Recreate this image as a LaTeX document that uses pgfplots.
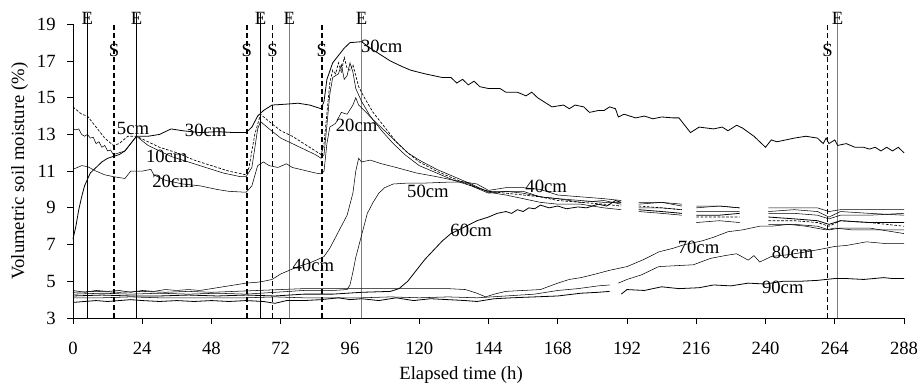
\documentclass[border=0pt]{standalone}
\usepackage{fontspec}
\setmainfont{Liberation Serif}
\usepackage{pgfplots}
\pgfplotsset{compat=1.18}
\begin{document}
\begin{tikzpicture}[font=\fontsize{14}{16}\selectfont]
\useasboundingbox (-54.75pt,-51.75pt) rectangle (636.75pt,238.5pt);
\begin{axis}[
  at={(0,0)}, anchor=south west,
  scale only axis, width=623.25pt, height=220.3pt,
  xmin=0, xmax=288, ymin=3, ymax=19,
  axis lines=left, axis line style={-, line width=0.6pt},
  tick align=outside, major tick length=4.5pt,
  tick style={black, line width=0.6pt},
  xtick={0,24,...,288}, ytick={3,5,...,19},
  minor tick num=0,
  /pgf/number format/assume math mode=true,
  xticklabel style={yshift=-10pt},
  yticklabel style={xshift=-5pt},
  clip=false, unbounded coords=jump,
  cycle list={{black, mark=none, line width=0.6pt}},
]
% event lines
\addplot[black, line width=0.6pt] coordinates {(5,3) (5,19.6)};
\addplot[black, line width=0.6pt] coordinates {(22,3) (22,19.6)};
\addplot[black, line width=0.6pt] coordinates {(65,3) (65,19.6)};
\addplot[gray, line width=1pt] coordinates {(75,3) (75,19.6)};
\addplot[gray, line width=1pt] coordinates {(100,3) (100,19.6)};
\addplot[gray, line width=1pt] coordinates {(265,3) (265,19.6)};
\addplot[black, line width=1.3pt, dash pattern=on 4pt off 2pt] coordinates {(14.2,3) (14.2,19.05)};
\addplot[black, line width=1.3pt, dash pattern=on 4pt off 2pt] coordinates {(60.2,3) (60.2,19.05)};
\addplot[black, line width=1.3pt, dash pattern=on 4pt off 2pt] coordinates {(86.2,3) (86.2,19.05)};
\addplot[black, line width=0.6pt, dash pattern=on 4pt off 2pt] coordinates {(69.2,3) (69.2,19.05)};
\addplot[black, line width=0.6pt, dash pattern=on 4pt off 2pt] coordinates {(261.5,3) (261.5,19.05)};
\node at (axis cs:5,19.32) {E};
\node at (axis cs:22,19.32) {E};
\node at (axis cs:65,19.32) {E};
\node at (axis cs:75,19.32) {E};
\node at (axis cs:100,19.32) {E};
\node at (axis cs:265,19.32) {E};
\node at (axis cs:14.2,17.6) {S};
\node at (axis cs:60.2,17.6) {S};
\node at (axis cs:69.2,17.6) {S};
\node at (axis cs:86.2,17.6) {S};
\node at (axis cs:261.5,17.6) {S};

% 5cm
\addplot[black, mark=none, dash pattern=on 2pt off 1.2pt, line width=0.5pt] coordinates {
(0,14.5) (3,14.1) (5,14.0) (8,13.4) (11,12.8) (14,12.4) (16,12.5) (19,12.9) (22,12.9) (26,12.6) (30,12.3) (36,12.0) (42,11.6) (48,11.3) (54,11.0) (60,10.8) (61,11.2) (63,13.0) (65,14.1) (68,13.7) (72,13.2) (76,12.9) (80,12.5) (84,12.1) (86,11.9) (87,12.5) (89,15.8) (90,16.5) (91,16.3) (92,16.9) (93,16.4) (94,17.2) (95,16.6) (96,16.5) (97,16.8) (98,16.2) (99,15.6) (101,15.0) (104,14.2) (108,13.4) (112,12.6) (116,12.0) (120,11.5) (126,11.0) (132,10.6) (138,10.2) (144,9.9) (150,9.8) (156,9.7) (162,9.6) (168,9.4) (176,9.3) (184,9.2) (190,9.1) (192,nan) (196,9.1) (204,9.0) (211,8.9) (213,nan) (216,8.5) (224,8.5) (231,8.5) (235,nan) (241,8.3) (250,8.3) (258,8.2) (262,8.0) (266,8.3) (276,8.2) (288,8.0)};
% 10cm
\addplot coordinates {
(0,13.3) (1,13.25) (2,13.3) (3,13.0) (4,12.9) (5,13.0) (6,12.8) (7,12.85) (8,12.5) (9,12.6) (10,12.3) (11,12.4) (12,12.1) (13,12.15) (14,11.9) (16,12.0) (18,12.1) (20,12.5) (22,12.9) (26,12.4) (30,12.1) (34,11.8) (40,11.5) (46,11.2) (52,10.9) (58,10.7) (60,10.7) (62,11.2) (64,13.3) (65,13.7) (68,13.3) (72,12.8) (76,12.5) (80,12.2) (84,11.9) (86,11.7) (87,11.9) (88,13.5) (89,15.2) (90,16.1) (92,16.3) (93,16.8) (94,16.0) (95,16.2) (96,16.9) (97,16.4) (98,15.5) (100,14.8) (103,14.0) (107,13.2) (111,12.5) (115,11.9) (120,11.3) (126,10.9) (132,10.5) (138,10.2) (144,9.8) (150,9.9) (156,9.8) (162,9.6) (168,9.5) (176,9.3) (184,9.4) (190,9.2) (192,nan) (196,9.2) (204,9.3) (211,9.2) (213,nan) (216,9.0) (224,9.1) (231,9.0) (235,nan) (241,8.8) (250,8.9) (258,8.8) (262,8.5) (266,8.8) (276,8.7) (288,8.6)};
% 20cm
\addplot coordinates {
(0,11.1) (3,11.3) (5,11.25) (8,11.0) (11,10.8) (14,10.7) (18,10.6) (20,11.0) (24,11.0) (27,11.1) (28,10.8) (32,10.5) (38,10.3) (44,10.2) (50,10.0) (54,9.9) (60,9.85) (62,10.2) (64,11.3) (66,11.5) (68,11.3) (71,11.2) (74,11.4) (76,11.2) (80,11.05) (84,10.9) (86,10.85) (87,11.0) (88,12.5) (89,13.4) (91,13.6) (93,14.2) (95,14.1) (97,14.6) (98,15.0) (99,14.6) (101,14.3) (104,13.8) (108,13.2) (112,12.6) (116,12.0) (120,11.6) (126,11.1) (132,10.7) (138,10.3) (144,9.85) (150,9.7) (156,9.5) (162,9.3) (168,9.2) (176,9.2) (184,9.0) (190,8.9) (192,nan) (196,8.8) (204,8.7) (211,8.6) (213,nan) (216,8.2) (224,8.3) (231,8.2) (235,nan) (241,8.1) (250,8.1) (258,8.0) (262,7.8) (266,7.9) (276,7.9) (288,7.6)};
% 30cm
\addplot coordinates {
(0,7.3) (1,8.0) (2,8.9) (3,9.6) (4,10.2) (6,10.9) (8,11.2) (10,11.5) (12,11.7) (14,11.8) (16,11.9) (18,12.1) (20,12.5) (22,12.9) (26,12.9) (30,13.0) (34,13.3) (38,13.2) (44,13.1) (50,13.15) (56,13.1) (60,13.1) (62,13.4) (64,14.0) (66,14.3) (69,14.6) (74,14.65) (78,14.7) (82,14.6) (86,14.4) (87,14.8) (88,16.0) (90,16.9) (92,17.3) (94,17.7) (96,18.0) (100,18.05) (103,17.7) (106,17.4) (110,17.0) (114,16.7) (117,16.5) (122,16.3) (128,16.1) (131,16.1) (133,15.8) (135,16.0) (137,15.7) (139,15.9) (141,15.6) (144,15.5) (148,15.5) (150,15.3) (154,15.3) (157,15.1) (159,15.3) (161,15.0) (163,14.8) (166,14.5) (170,14.6) (172,14.4) (174,14.6) (177,14.5) (179,14.2) (182,14.3) (184,14.3) (186,14.5) (188,14.4) (189,13.95) (191,14.1) (195,13.9) (198,14.0) (201,13.85) (204,13.95) (208,13.9) (210,13.9) (212,13.5) (214,13.1) (217,13.4) (222,13.3) (225,13.4) (227,13.2) (230,13.5) (232,13.35) (236,12.9) (240,12.3) (242,12.7) (244,12.6) (247,12.7) (250,12.8) (254,12.9) (258,12.8) (260,12.5) (261,12.8) (262,12.5) (264,12.7) (265,12.4) (268,12.5) (271,12.3) (274,12.3) (276,12.2) (278,12.3) (280,12.1) (282,12.3) (284,12.1) (286,12.3) (288,12.0)};
% 40cm
\addplot coordinates {
(0,4.5) (4,4.4) (8,4.5) (12,4.45) (16,4.5) (20,4.4) (24,4.5) (28,4.45) (32,4.55) (36,4.5) (40,4.55) (44,4.5) (48,4.6) (52,4.7) (56,4.8) (60,4.9) (64,4.95) (66,5.0) (69,5.1) (72,5.4) (75,5.6) (78,5.8) (82,6.0) (85,6.2) (87,6.35) (89,6.8) (91,7.4) (93,8.0) (95,8.6) (97,9.8) (98,11.0) (99,11.7) (100,11.5) (103,11.6) (107,11.4) (112,11.2) (119,10.9) (126,10.7) (132,10.5) (140,10.3) (144,9.95) (150,10.1) (156,10.1) (162,10.0) (168,9.7) (176,9.6) (184,9.5) (190,9.4) (192,nan) (196,9.3) (204,9.3) (211,9.1) (213,nan) (216,9.1) (224,9.1) (231,9.0) (235,nan) (241,9.0) (250,9.0) (258,9.0) (262,8.8) (266,8.9) (276,8.9) (288,8.9)};
% 50cm
\addplot coordinates {
(0,4.3) (10,4.35) (20,4.3) (30,4.35) (40,4.3) (50,4.35) (60,4.3) (70,4.4) (80,4.5) (90,4.5) (95,4.55) (96,4.8) (97,5.5) (98,6.3) (100,7.5) (102,8.7) (104,9.3) (106,9.8) (108,10.1) (111,10.3) (116,10.35) (122,10.35) (130,10.4) (136,10.4) (140,10.1) (144,9.9) (150,9.9) (156,9.9) (162,9.6) (168,9.5) (176,9.4) (184,9.3) (190,9.3) (192,nan) (196,9.0) (204,9.0) (211,8.9) (213,nan) (216,8.8) (224,8.8) (231,8.8) (235,nan) (241,8.7) (250,8.7) (258,8.6) (262,8.4) (266,8.6) (276,8.6) (288,8.7)};
% 60cm
\addplot coordinates {
(0,4.2) (10,4.25) (20,4.2) (30,4.2) (40,4.25) (50,4.2) (60,4.25) (70,4.2) (80,4.3) (90,4.3) (100,4.4) (110,4.45) (113,4.6) (116,5.0) (119,5.6) (122,6.2) (125,6.7) (128,7.2) (131,7.6) (135,7.9) (140,8.3) (144,8.5) (147,8.7) (150,8.8) (152,8.7) (154,8.9) (156,8.8) (158,9.0) (160,8.95) (162,9.15) (165,9.0) (168,9.1) (171,8.95) (175,9.05) (178,9.0) (182,9.2) (185,9.1) (188,9.4) (190,9.3) (192,nan) (196,8.9) (204,8.8) (211,8.7) (213,nan) (216,8.6) (224,8.6) (231,8.7) (235,nan) (241,8.5) (250,8.4) (258,8.3) (262,8.1) (266,8.3) (276,8.2) (288,8.2)};
% 70cm
\addplot coordinates {
(0,4.4) (8,4.45) (16,4.4) (24,4.45) (32,4.4) (40,4.45) (48,4.4) (56,4.45) (64,4.5) (72,4.55) (80,4.6) (90,4.6) (100,4.6) (110,4.6) (120,4.6) (130,4.6) (136,4.55) (140,4.35) (143,4.15) (146,4.3) (150,4.45) (156,4.5) (162,4.55) (168,4.9) (172,5.1) (176,5.2) (180,5.35) (186,5.6) (192,5.8) (198,6.2) (203,6.6) (208,6.8) (212,7.0) (218,7.2) (222,7.4) (227,7.7) (232,7.8) (238,8.0) (242,8.0) (248,8.1) (254,8.0) (261,7.8) (264,7.9) (270,7.8) (280,7.8) (288,7.8)};
% 80cm
\addplot coordinates {
(0,4.1) (10,4.1) (20,4.15) (30,4.1) (40,4.1) (50,4.1) (60,4.1) (70,4.15) (80,4.1) (90,4.1) (100,4.1) (110,4.15) (120,4.1) (130,4.15) (140,4.1) (150,4.2) (160,4.3) (168,4.5) (175,4.6) (182,4.75) (186,4.8) (187.5,nan) (189,4.9) (192,5.1) (197,5.35) (203,5.8) (209,5.85) (215,5.9) (221,6.25) (226,6.4) (230,6.5) (234,6.15) (236,6.4) (238,6.05) (242,6.35) (248,6.45) (254,6.6) (261,6.8) (264,6.9) (268,6.95) (275,7.15) (282,7.05) (288,7.05)};
% 90cm
\addplot coordinates {
(0,3.85) (4,3.9) (8,3.95) (12,3.9) (16,3.95) (20,4.0) (24,3.95) (30,3.9) (36,3.95) (42,3.9) (48,3.95) (54,3.9) (60,3.95) (66,3.9) (70,3.8) (74,3.95) (80,3.95) (86,4.0) (92,4.1) (96,4.0) (100,4.05) (106,3.95) (112,4.1) (118,3.95) (124,4.05) (130,4.0) (136,3.95) (140,3.9) (146,4.05) (152,4.1) (160,4.15) (168,4.2) (176,4.35) (182,4.4) (186,4.45) (188,nan) (190,4.3) (192,4.55) (198,4.5) (204,4.7) (210,4.6) (217,4.65) (222,4.8) (228,4.75) (234,4.9) (240,4.85) (246,5.0) (252,5.0) (258,5.05) (261,5.1) (264,5.15) (268,5.15) (274,5.1) (281,5.2) (284,5.15) (288,5.15)};

% curve labels
\node at (axis cs:20.8,13.35) {5cm};
\node at (axis cs:46,13.2) {30cm};
\node at (axis cs:32.5,11.8) {10cm};
\node at (axis cs:34.7,10.45) {20cm};
\node at (axis cs:107,17.8) {30cm};
\node at (axis cs:98.3,13.5) {20cm};
\node at (axis cs:123,9.9) {50cm};
\node at (axis cs:164,10.17) {40cm};
\node at (axis cs:138,7.8) {60cm};
\node at (axis cs:83.3,5.87) {40cm};
\node at (axis cs:216.8,6.85) {70cm};
\node at (axis cs:249.4,6.58) {80cm};
\node at (axis cs:246,4.67) {90cm};

\node[rotate=90] at (axis description cs:-0.0642,0.5) {Volumetric soil moisture (\%)};
\node at (axis description cs:0.467,-0.194) {Elapsed time (h)};
\end{axis}
\end{tikzpicture}
\end{document}
